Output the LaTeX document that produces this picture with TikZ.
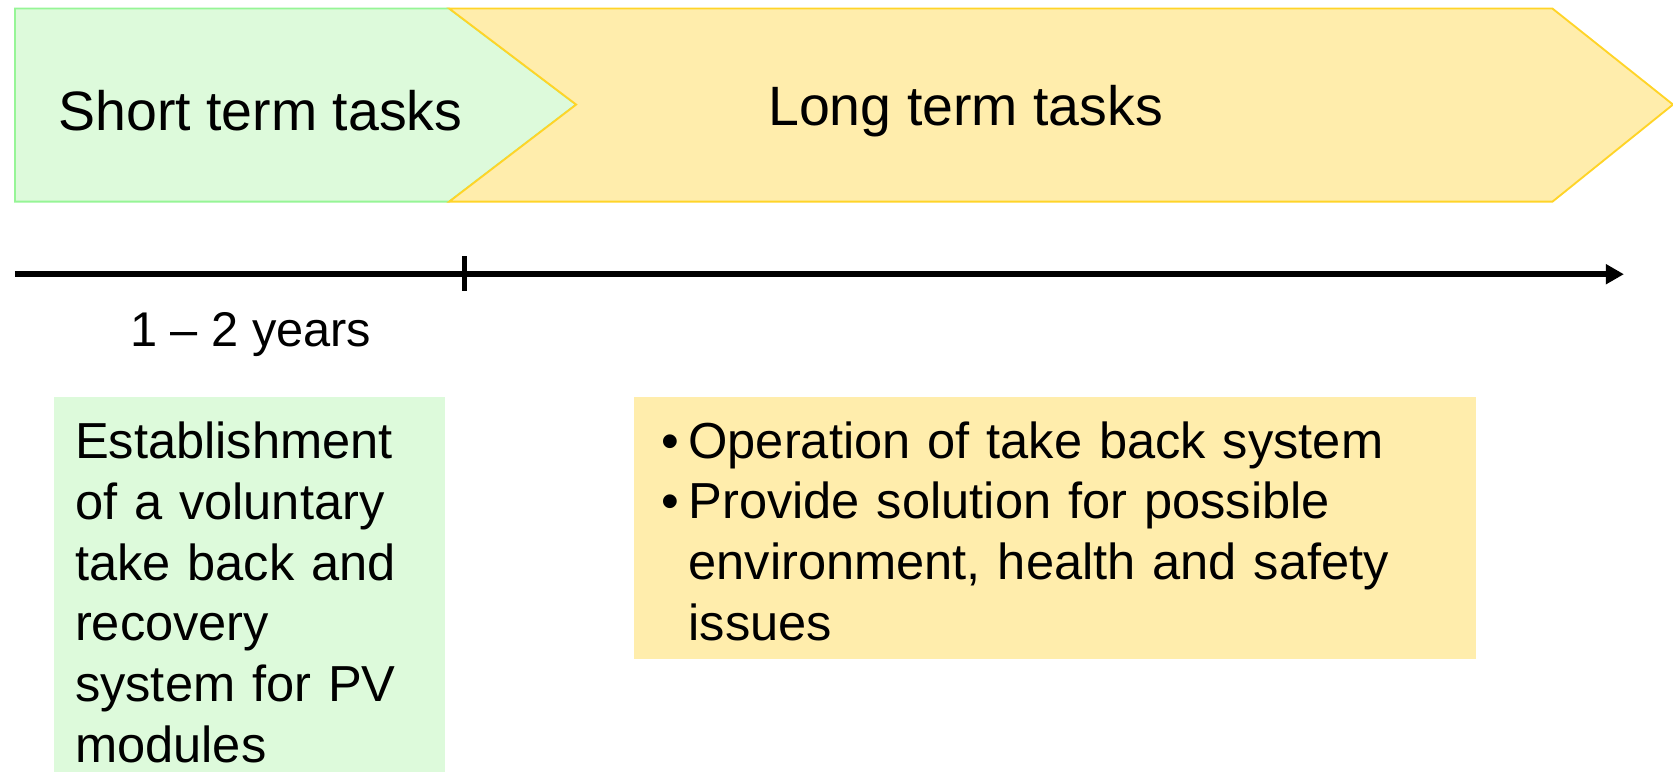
\documentclass[tikz,border=0pt]{standalone}
\usepackage{fontspec}
\setmainfont{Liberation Sans}
\usetikzlibrary{arrows.meta,positioning}

\definecolor{shortfill}{RGB}{221,250,219}
\definecolor{shortline}{RGB}{150,245,150}
\definecolor{longfill}{RGB}{255,237,172}
\definecolor{longline}{RGB}{255,212,40}

\newcommand{\bul}{\textbullet\hspace{5pt}}

\begin{document}
\begin{tikzpicture}[x=0.02cm,y=-0.02cm,
    head/.style={font=\fontsize{29.6}{35}\selectfont},
    body/.style={font=\fontsize{27}{32.4}\selectfont,align=left,anchor=north west,inner ysep=0pt},
    shortbox/.style={body,fill=shortfill,text width=6.54cm,inner xsep=0.4cm,minimum height=7.32cm},
    longbox/.style={body,fill=longfill,text width=14.76cm,inner xsep=0.51cm,minimum height=4.9cm},
    arr/.style={line width=2.9pt,-{Triangle[length=0.34cm,width=0.36cm]}}]

      \useasboundingbox (0,0) rectangle (1568,723);

      % the two phases
      \draw[shortline,fill=shortfill,line width=1pt] (14,8) -- (421,8) -- (540,98) -- (421,189) -- (14,189) -- cycle;
      \draw[longline,fill=longfill,line width=1pt] (421,8) -- (1455,8) -- (1568,98) -- (1455,189) -- (421,189) -- (540,98) -- cycle;

      \node[head] (short) at (244,104) {Short term tasks};
      \node[head] (long) at (905,104) {Long term tasks};

      % time axis
      \coordinate (start) at (14,257);
      \coordinate (end) at (1522,257);
      \coordinate (ticktop) at (435,240);
      \coordinate (tickbot) at (435,273);
      \draw[arr] (start) -- (end);
      \draw[line width=2.6pt] (ticktop) -- (tickbot);

      \node[font=\fontsize{26}{31}\selectfont] (years) at (235,314) {1 -- 2 years};

      \node[shortbox] (shorttasks) at (50,372) {Establishment\\of a voluntary\\take back and\\recovery\\system for PV\\modules};
      \node[longbox] (longtasks) at (594,372) {\rule{0pt}{23pt}\bul Operation of take back system\\\bul Provide solution for possible\\\hphantom{\bul}environment, health and safety\\\hphantom{\bul}issues};

\end{tikzpicture}
\end{document}
